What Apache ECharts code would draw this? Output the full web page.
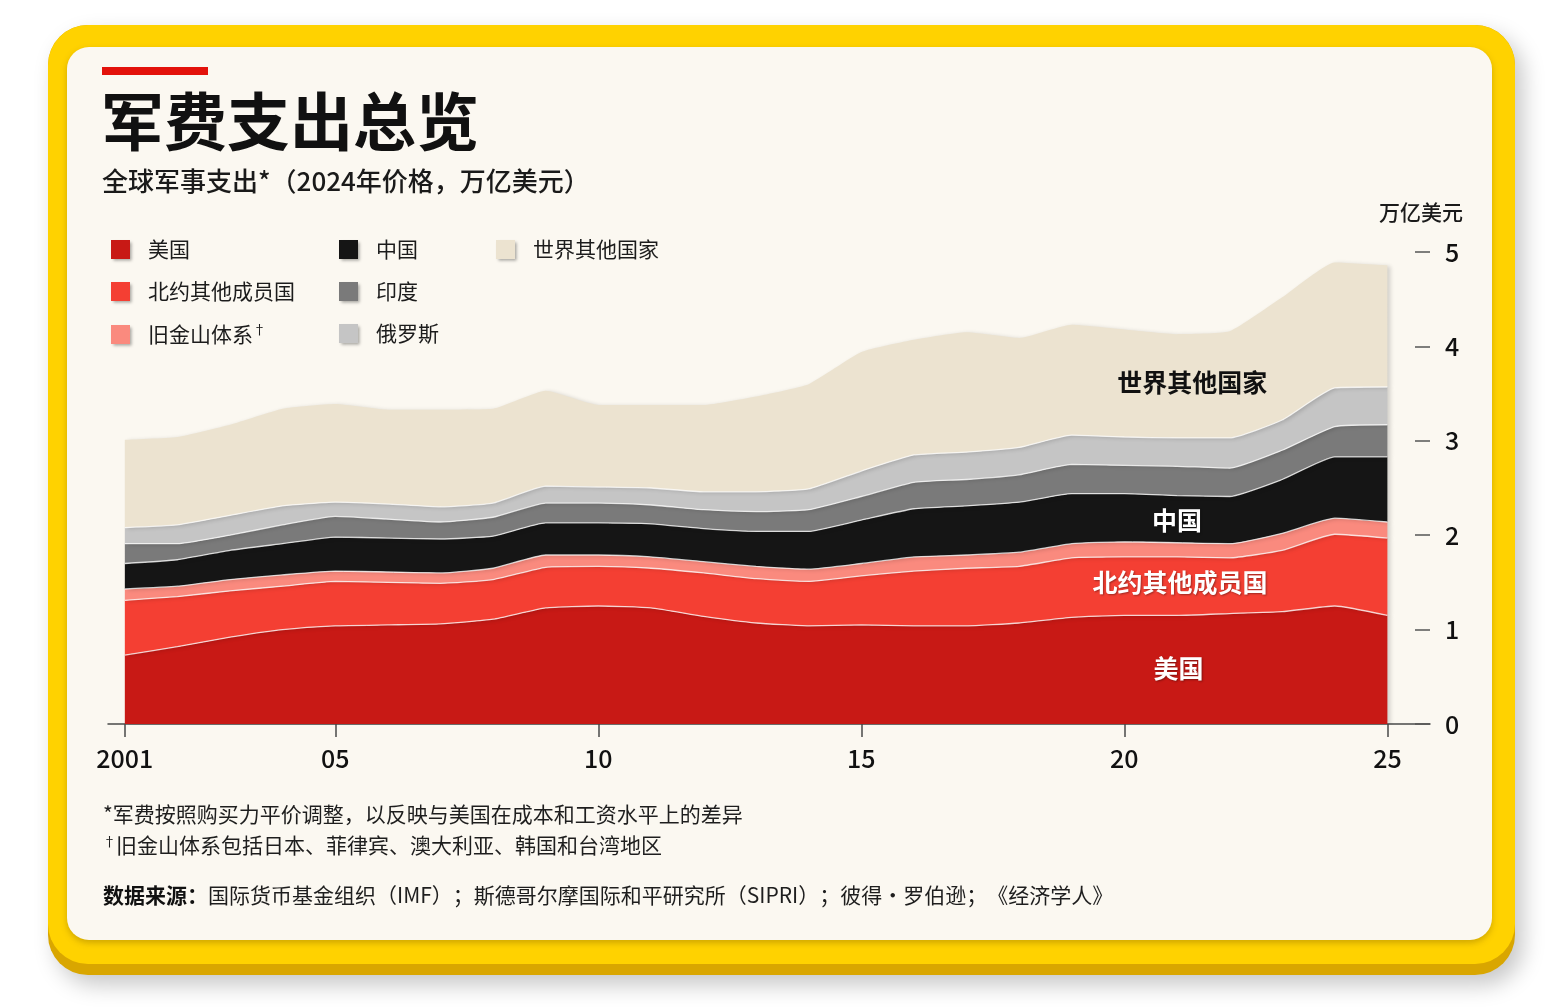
<!DOCTYPE html>
<html>
<head>
<meta charset="utf-8">
<script src="https://cdn.jsdelivr.net/npm/echarts@6/dist/echarts.min.js"></script>
<style>
html,body{margin:0;padding:0;background:#ffffff;}
#chart{width:1560px;height:1008px;}
</style>
</head>
<body>
<div id="chart"></div>
<script>
// ---------------- data (trillions of 2024 US$) ----------------
const years = [2001,2002,2003,2004,2005,2006,2007,2008,2009,2010,2011,2012,2013,2014,2015,2016,2017,2018,2019,2020,2021,2022,2023,2024,2025];
const usValues     = [0.73,0.82,0.92,1.00,1.04,1.05,1.06,1.11,1.23,1.25,1.23,1.14,1.07,1.04,1.05,1.04,1.04,1.07,1.13,1.15,1.15,1.17,1.19,1.25,1.15];
const natoValues   = [0.58,0.53,0.49,0.46,0.47,0.45,0.43,0.42,0.43,0.42,0.42,0.46,0.47,0.47,0.52,0.58,0.61,0.60,0.63,0.62,0.62,0.59,0.65,0.76,0.82];
const sfValues     = [0.12,0.11,0.12,0.12,0.11,0.11,0.11,0.12,0.13,0.12,0.12,0.12,0.13,0.13,0.13,0.15,0.14,0.15,0.15,0.16,0.15,0.15,0.18,0.17,0.17];
const chinaValues  = [0.27,0.28,0.31,0.33,0.36,0.36,0.36,0.34,0.34,0.34,0.35,0.35,0.37,0.40,0.46,0.51,0.52,0.53,0.53,0.51,0.50,0.50,0.57,0.65,0.69];
const indiaValues  = [0.21,0.17,0.16,0.20,0.22,0.20,0.18,0.20,0.21,0.21,0.20,0.20,0.21,0.23,0.25,0.28,0.28,0.29,0.31,0.30,0.31,0.30,0.31,0.32,0.34];
const russiaValues = [0.17,0.20,0.21,0.20,0.15,0.16,0.16,0.15,0.18,0.17,0.18,0.19,0.21,0.22,0.27,0.29,0.29,0.29,0.31,0.30,0.30,0.32,0.32,0.41,0.40];
const restValues   = [0.93,0.93,0.96,1.03,1.04,1.00,1.03,1.00,1.01,0.87,0.88,0.92,1.01,1.11,1.26,1.22,1.27,1.16,1.17,1.14,1.10,1.13,1.30,1.33,1.29];

const seriesNames = ['美国','北约其他成员国','旧金山体系','中国','印度','俄罗斯','世界其他国家'];
const xTickYears  = [2001,2005,2010,2015,2020,2025];
const xTickLabels = ['2001','05','10','15','20','25'];

// in-chart labels, in data coordinates [year, stacked value]
const areaLabels = [
  {series:'美国', text:'美国', coord:[2021.03, 0.59], color:'#ffffff'},
  {series:'北约其他成员国', text:'北约其他成员国', coord:[2021.06, 1.50], color:'#ffffff'},
  {series:'中国', text:'中国', coord:[2021.0, 2.16], color:'#ffffff'},
  {series:'世界其他国家', text:'世界其他国家', coord:[2021.29, 3.62], color:'#111111'}
];

// ---------------- styles ----------------
const FONT = '"Noto Sans CJK SC", "Noto Sans", sans-serif';
const colors = ['#C81915','#F43F33','#FA8A7E','#151515','#7A7A7A','#C5C5C5','#ECE3D0'];
const valuesList = [usValues, natoValues, sfValues, chinaValues, indiaValues, russiaValues, restValues];

const chart = echarts.init(document.getElementById('chart'), null, {renderer:'canvas'});

const series = seriesNames.map((name, k) => {
  const labels = areaLabels.filter(l => l.series === name);
  return {
    name,
    type:'line',
    stack:'total',
    // [value, year] so the stacked dimension is the value
    dimensions:['value','year'],
    encode:{x:'year', y:'value'},
    data: years.map((y,i) => [valuesList[k][i], y]),
    symbol:'none',
    showSymbol:false,
    smooth:0.15,
    color: colors[k],
    itemStyle:{color: colors[k]},
    lineStyle:{width: k === 6 ? 0 : 1.3, color:'rgba(255,255,255,0.75)'},
    areaStyle:{color: colors[k], opacity:1, shadowColor:'rgba(0,0,0,0.16)', shadowBlur:4, shadowOffsetX:3, shadowOffsetY:1},
    emphasis:{disabled:true},
    silent:true,
    animation:false,
    markPoint: labels.length ? {
      symbol:'rect', symbolSize:1, silent:true, animation:false,
      itemStyle:{color:'rgba(0,0,0,0)'},
      label:{
        show:true, position:'inside', formatter: p => p.name,
        fontFamily:FONT, fontSize:25, fontWeight:'bold', color: labels[0].color,
        textShadowColor: labels[0].color === '#ffffff' ? 'rgba(0,0,0,0.35)' : 'rgba(0,0,0,0)',
        textShadowBlur:2, textShadowOffsetX:1, textShadowOffsetY:1
      },
      data: labels.map(l => ({name:l.text, coord:l.coord}))
    } : undefined
  };
});

const legendBase = {
  orient:'vertical', top:239, padding:0, itemWidth:19, itemHeight:19, itemGap:21, icon:'rect',
  selectedMode:false,
  textStyle:{fontFamily:FONT, fontSize:21, color:'#1c1c1c', padding:[0,0,0,13],
    rich:{sup:{fontFamily:FONT, fontSize:13, color:'#1c1c1c', verticalAlign:'top', padding:[0,0,10,0]}}},
  itemStyle:{borderWidth:0, shadowColor:'rgba(0,0,0,0.35)', shadowBlur:3, shadowOffsetX:1.5, shadowOffsetY:2},
  formatter: n => n === '旧金山体系' ? n + '{sup|†}' : n
};

const option = {
  backgroundColor:'#ffffff',
  textStyle:{fontFamily:FONT},
  animation:false,
  grid:{left:108, right:130, top:252, bottom:284, containLabel:false},
  xAxis:{
    type:'value', min:2000.68, max:2025.81,
    splitLine:{show:false},
    axisLine:{show:true, lineStyle:{color:'#4a4a4a', width:1.5}},
    axisTick:{show:true, length:13, customValues:xTickYears, lineStyle:{color:'#4a4a4a', width:1.5}},
    axisLabel:{show:true, customValues:xTickYears, margin:22, fontFamily:FONT, fontSize:25, fontWeight:500, color:'#111',
      formatter: v => { const i = xTickYears.indexOf(Math.round(v)); return i >= 0 ? xTickLabels[i] : ''; }}
  },
  yAxis:{
    type:'value', position:'right', min:0, max:5, interval:1,
    splitLine:{show:false},
    axisLine:{show:false},
    axisTick:{show:true, inside:true, length:15, lineStyle:{color:'#555', width:1.5}},
    axisLabel:{show:true, margin:15, fontFamily:FONT, fontSize:25, fontWeight:500, color:'#111',
      formatter: v => String(v)}
  },
  legend:[
    Object.assign({}, legendBase, {left:111, data:['美国','北约其他成员国','旧金山体系']}),
    Object.assign({}, legendBase, {left:339, data:['中国','印度','俄罗斯']}),
    Object.assign({}, legendBase, {left:496, data:['世界其他国家']})
  ],
  graphic:[
    {type:'rect', z:-10, silent:true, shape:{x:48,y:25,width:1467,height:950,r:40},
      style:{fill:'#D9A600', shadowBlur:22, shadowColor:'rgba(0,0,0,0.22)', shadowOffsetX:8, shadowOffsetY:10}},
    {type:'rect', z:-9, silent:true, shape:{x:48,y:25,width:1467,height:939,r:40}, style:{fill:'#FFD200'}},
    {type:'rect', z:-8, silent:true, shape:{x:67,y:47,width:1425,height:893,r:22},
      style:{fill:'#FBF8F1', shadowBlur:6, shadowColor:'rgba(120,90,0,0.35)', shadowOffsetY:3}},
    {type:'rect', z:-7, silent:true, shape:{x:102,y:67,width:106,height:8}, style:{fill:'#E3120B'}},
    {type:'text', z:5, silent:true, x:101, y:121,
      style:{text:'军费支出总览', font:'bold 63px ' + FONT, fill:'#111', align:'left', verticalAlign:'middle'}},
    {type:'text', z:5, silent:true, x:102, y:181,
      style:{text:'全球军事支出*（2024年价格，万亿美元）', font:'500 26px ' + FONT, fill:'#1a1a1a', align:'left', verticalAlign:'middle'}},
    {type:'text', z:5, silent:true, x:1463, y:212,
      style:{text:'万亿美元', font:'500 21px ' + FONT, fill:'#1a1a1a', align:'right', verticalAlign:'middle'}},
    {type:'text', z:5, silent:true, x:103, y:814,
      style:{text:'*军费按照购买力平价调整，以反映与美国在成本和工资水平上的差异', font:'21px ' + FONT, fill:'#1e1e1e', align:'left', verticalAlign:'middle'}},
    {type:'text', z:5, silent:true, x:103, y:845,
      style:{text:'{sup|†}旧金山体系包括日本、菲律宾、澳大利亚、韩国和台湾地区', font:'21px ' + FONT, fill:'#1e1e1e', align:'left', verticalAlign:'middle',
        rich:{sup:{fontSize:13, fontFamily:FONT, fill:'#1e1e1e', verticalAlign:'top', padding:[0,0,8,0]}}}},
    {type:'text', z:5, silent:true, x:103, y:895,
      style:{text:'{b|数据来源：}国际货币基金组织（IMF）；斯德哥尔摩国际和平研究所（SIPRI）；彼得·罗伯逊；《经济学人》', font:'21px ' + FONT, fill:'#1e1e1e', align:'left', verticalAlign:'middle',
        rich:{b:{fontSize:21, fontFamily:FONT, fontWeight:'bold', fill:'#111'}}}}
  ],
  series
};

chart.setOption(option);
</script>
</body>
</html>
